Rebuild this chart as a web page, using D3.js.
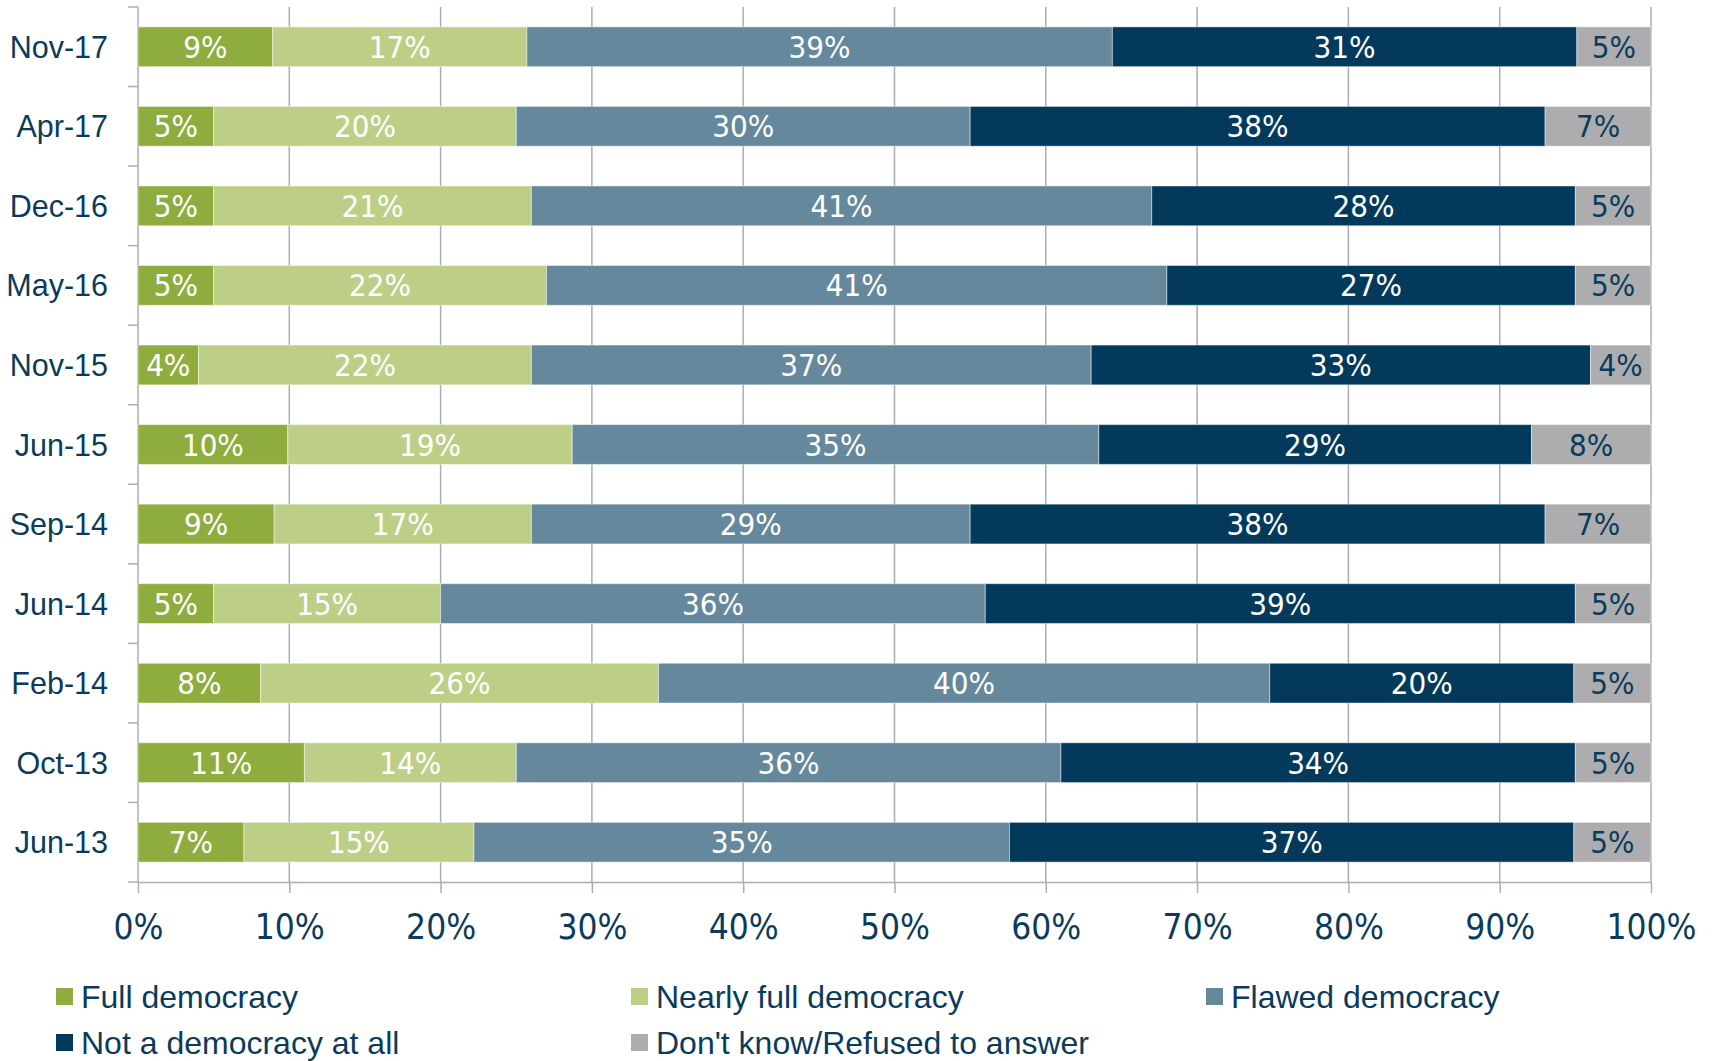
<!DOCTYPE html>
<html>
<head>
<meta charset="utf-8">
<script src="https://cdn.jsdelivr.net/npm/d3@7"></script>
<style>
  body { margin: 0; background: #fff; }
  .num { font-family: "Liberation Sans Narrow", "Arial Narrow", "DejaVu Sans Condensed", sans-serif; }
  .txt { font-family: "Liberation Sans", Arial, sans-serif; }
</style>
</head>
<body>
<div id="chart"></div>
<script>
// survey waves, top to bottom
var waves = ["Nov-17", "Apr-17", "Dec-16", "May-16", "Nov-15", "Jun-15",
             "Sep-14", "Jun-14", "Feb-14", "Oct-13", "Jun-13"];

var seriesNames = ["Full democracy", "Nearly full democracy", "Flawed democracy",
                   "Not a democracy at all", "Don't know/Refused to answer"];

// shares in percent, one array per answer, same order as waves
var fullDem    = [8.9, 5, 5, 5, 4, 9.9, 9, 5, 8.1, 11, 7];
var nearlyFull = [16.8, 20, 21, 22, 22, 18.8, 17, 15, 26.3, 14, 15.2];
var flawedDem  = [38.7, 30, 41, 41, 37, 34.8, 29, 36, 40.4, 36, 35.4];
var notDem     = [30.7, 38, 28, 27, 33, 28.6, 38, 39, 20.1, 34, 37.3];
var dontKnow   = [4.9, 7, 5, 5, 4, 7.9, 7, 5, 5.1, 5, 5.1];

var xTicks = [0, 10, 20, 30, 40, 50, 60, 70, 80, 90, 100];

var colors = ["#8fad3e", "#bdcf87", "#66889c", "#033a5c", "#adadaf"];
var labelColors = ["#fff", "#fff", "#fff", "#fff", "#0b3b5b"];
var textColor = "#0b3b5b";
var gridColor = "#a9adb5";

var width = 1712, height = 1061;
var margin = { top: 7, right: 61, bottom: 179, left: 138 };

var svg = d3.select("#chart")
    .append("svg")
    .attr("width", width)
    .attr("height", height);

// build rows for the stack
var seriesValues = [fullDem, nearlyFull, flawedDem, notDem, dontKnow];
var rows = waves.map(function(w, i) {
    var r = { wave: w };
    seriesNames.forEach(function(s, j) { r[s] = seriesValues[j][i]; });
    return r;
});

var stacked = d3.stack().keys(seriesNames)(rows);

var x = d3.scaleLinear()
    .domain([0, 100])
    .range([margin.left, width - margin.right]);

var y = d3.scaleBand()
    .domain(waves)
    .range([margin.top, height - margin.bottom])
    .paddingInner(0.5)
    .paddingOuter(0.25);

var plotBottom = height - margin.bottom;

// vertical gridlines
svg.append("g")
    .selectAll("line")
    .data(xTicks)
    .enter()
    .append("line")
    .attr("x1", function(d) { return x(d); })
    .attr("x2", function(d) { return x(d); })
    .attr("y1", margin.top)
    .attr("y2", plotBottom)
    .attr("stroke", gridColor)
    .attr("stroke-width", 1.5);

// y axis ticks at the band boundaries
var gap = (y.step() - y.bandwidth()) / 2;
var bounds = waves.map(function(w) { return y(w) - gap; }).concat([plotBottom]);
svg.append("g")
    .selectAll("line")
    .data(bounds)
    .enter()
    .append("line")
    .attr("x1", margin.left - 10)
    .attr("x2", margin.left)
    .attr("y1", function(d) { return d; })
    .attr("y2", function(d) { return d; })
    .attr("stroke", gridColor)
    .attr("stroke-width", 1.5);

// bars
var layers = svg.append("g")
    .selectAll("g")
    .data(stacked)
    .enter()
    .append("g")
    .attr("fill", function(d, i) { return colors[i]; });

layers.selectAll("rect")
    .data(function(d) { return d; })
    .enter()
    .append("rect")
    .attr("x", function(d) { return x(d[0]); })
    .attr("y", function(d) { return y(d.data.wave); })
    .attr("width", function(d) { return x(d[1]) - x(d[0]); })
    .attr("height", y.bandwidth())
    .attr("stroke", "rgba(255,255,255,0.45)")
    .attr("stroke-width", 1);

// value labels
var fmt = d3.format(".0f");
layers.each(function(layer, i) {
    d3.select(this).selectAll("text")
        .data(layer)
        .enter()
        .append("text")
        .attr("class", "num")
        .attr("x", function(d) { return (x(d[0]) + x(d[1])) / 2; })
        .attr("y", function(d) { return y(d.data.wave) + y.bandwidth() / 2 + 11; })
        .attr("text-anchor", "middle")
        .attr("font-size", 31)
        .attr("fill", labelColors[i])
        .text(function(d) { return fmt(d[1] - d[0]) + "%"; });
});

// wave labels
svg.append("g")
    .selectAll("text")
    .data(waves)
    .enter()
    .append("text")
    .attr("class", "txt")
    .attr("x", 108)
    .attr("y", function(d) { return y(d) + y.bandwidth() / 2 + 11; })
    .attr("text-anchor", "end")
    .attr("font-size", 30.5)
    .attr("fill", textColor)
    .text(function(d) { return d; });

// x axis
var xAxis = svg.append("g")
    .attr("transform", "translate(0," + plotBottom + ")")
    .call(d3.axisBottom(x)
        .tickValues(xTicks)
        .tickSizeInner(11)
        .tickSizeOuter(0)
        .tickPadding(21)
        .tickFormat(function(d) { return d + "%"; }));

xAxis.select(".domain").attr("stroke", gridColor).attr("stroke-width", 1.5);
xAxis.selectAll(".tick line").attr("stroke", gridColor).attr("stroke-width", 1.5);
xAxis.selectAll(".tick text")
    .attr("class", "num")
    .attr("font-size", 35)
    .attr("fill", textColor);

// legend, three per row
var legend = svg.append("g")
    .selectAll("g")
    .data(seriesNames)
    .enter()
    .append("g")
    .attr("transform", function(d, i) {
        return "translate(" + (56 + (i % 3) * 575) + "," + (997 + Math.floor(i / 3) * 46) + ")";
    });

legend.append("rect")
    .attr("x", 0)
    .attr("y", -9)
    .attr("width", 17)
    .attr("height", 17)
    .attr("fill", function(d, i) { return colors[i]; });

legend.append("text")
    .attr("class", "txt")
    .attr("x", 25)
    .attr("y", 11)
    .attr("font-size", 32)
    .attr("fill", textColor)
    .text(function(d) { return d; });
</script>
</body>
</html>
